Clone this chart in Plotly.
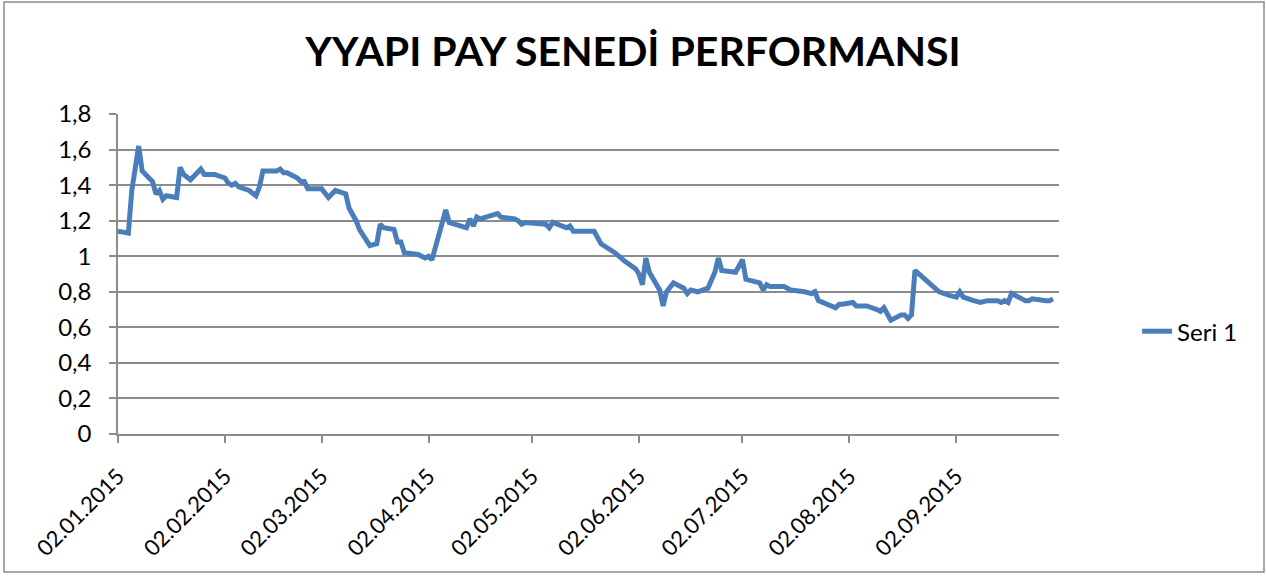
import plotly.graph_objects as go

dates = [
    "2015-01-02", "2015-01-05", "2015-01-06", "2015-01-08", "2015-01-09", "2015-01-12",
    "2015-01-13", "2015-01-14", "2015-01-15", "2015-01-16", "2015-01-19", "2015-01-20",
    "2015-01-21", "2015-01-23", "2015-01-26", "2015-01-27", "2015-01-30", "2015-02-02",
    "2015-02-03", "2015-02-04", "2015-02-05", "2015-02-06", "2015-02-09", "2015-02-11",
    "2015-02-12", "2015-02-13", "2015-02-17", "2015-02-18", "2015-02-19", "2015-02-20",
    "2015-02-23", "2015-02-24", "2015-02-25", "2015-02-26", "2015-03-02", "2015-03-03",
    "2015-03-04", "2015-03-06", "2015-03-09", "2015-03-10", "2015-03-11", "2015-03-12",
    "2015-03-13", "2015-03-16", "2015-03-18", "2015-03-19", "2015-03-20", "2015-03-23",
    "2015-03-24", "2015-03-25", "2015-03-26", "2015-03-30", "2015-04-01", "2015-04-02",
    "2015-04-03", "2015-04-07", "2015-04-08", "2015-04-10", "2015-04-13", "2015-04-14",
    "2015-04-15", "2015-04-16", "2015-04-17", "2015-04-22", "2015-04-23", "2015-04-27",
    "2015-04-28", "2015-04-29", "2015-04-30", "2015-05-06", "2015-05-07", "2015-05-08",
    "2015-05-11", "2015-05-12", "2015-05-13", "2015-05-14", "2015-05-20", "2015-05-21",
    "2015-05-22", "2015-05-26", "2015-05-29", "2015-06-01", "2015-06-02", "2015-06-03",
    "2015-06-04", "2015-06-05", "2015-06-08", "2015-06-09", "2015-06-10", "2015-06-12",
    "2015-06-15", "2015-06-16", "2015-06-17", "2015-06-19", "2015-06-22", "2015-06-24",
    "2015-06-25", "2015-06-26", "2015-06-30", "2015-07-02", "2015-07-03", "2015-07-07",
    "2015-07-08", "2015-07-09", "2015-07-10", "2015-07-14", "2015-07-16", "2015-07-20",
    "2015-07-22", "2015-07-23", "2015-07-24", "2015-07-29", "2015-07-30", "2015-07-31",
    "2015-08-03", "2015-08-04", "2015-08-07", "2015-08-10", "2015-08-11", "2015-08-12",
    "2015-08-14", "2015-08-17", "2015-08-18", "2015-08-19", "2015-08-20", "2015-08-21",
    "2015-08-26", "2015-08-28", "2015-08-31", "2015-09-02", "2015-09-03", "2015-09-04",
    "2015-09-07", "2015-09-09", "2015-09-11", "2015-09-14", "2015-09-15", "2015-09-16",
    "2015-09-17", "2015-09-18", "2015-09-21", "2015-09-22", "2015-09-23", "2015-09-24",
    "2015-09-28", "2015-09-29", "2015-09-30",
]

values = [
    1.14, 1.13, 1.37, 1.62, 1.48, 1.42,
    1.35, 1.37, 1.32, 1.34, 1.33, 1.50,
    1.46, 1.43, 1.49, 1.46, 1.46, 1.44,
    1.41, 1.40, 1.41, 1.39, 1.37, 1.34,
    1.39, 1.48, 1.48, 1.49, 1.47, 1.47,
    1.44, 1.42, 1.42, 1.38, 1.38, 1.35,
    1.33, 1.37, 1.35, 1.27, 1.24, 1.20,
    1.15, 1.06, 1.07, 1.18, 1.16, 1.15,
    1.08, 1.08, 1.02, 1.01, 0.99, 1.00,
    0.98, 1.26, 1.19, 1.18, 1.16, 1.21,
    1.17, 1.22, 1.21, 1.24, 1.22, 1.21,
    1.20, 1.18, 1.19, 1.18, 1.16, 1.19,
    1.17, 1.16, 1.17, 1.14, 1.14, 1.10,
    1.07, 1.02, 0.97, 0.93, 0.90, 0.84,
    0.99, 0.91, 0.81, 0.72, 0.80, 0.85,
    0.82, 0.79, 0.81, 0.80, 0.82, 0.91,
    0.99, 0.92, 0.91, 0.98, 0.87, 0.85,
    0.81, 0.84, 0.83, 0.83, 0.81, 0.80,
    0.79, 0.80, 0.75, 0.71, 0.73, 0.73,
    0.74, 0.72, 0.72, 0.70, 0.69, 0.71,
    0.64, 0.67, 0.67, 0.65, 0.67, 0.92,
    0.84, 0.80, 0.78, 0.77, 0.80, 0.77,
    0.75, 0.74, 0.75, 0.75, 0.74, 0.75,
    0.74, 0.79, 0.76, 0.75, 0.75, 0.76,
    0.75, 0.75, 0.76,
]

x_tick_vals = ["2015-01-02", "2015-02-02", "2015-03-02", "2015-04-02", "2015-05-02",
               "2015-06-02", "2015-07-02", "2015-08-02", "2015-09-02"]
x_tick_text = ["02.01.2015", "02.02.2015", "02.03.2015", "02.04.2015", "02.05.2015",
               "02.06.2015", "02.07.2015", "02.08.2015", "02.09.2015"]
y_tick_vals = [0, 0.2, 0.4, 0.6, 0.8, 1.0, 1.2, 1.4, 1.6, 1.8]
y_tick_text = ["0", "0,2", "0,4", "0,6", "0,8", "1", "1,2", "1,4", "1,6", "1,8"]

title_text = "YYAPI PAY SENEDİ PERFORMANSI"
series_name = "Seri 1"

FONT = "Lato, 'Open Sans', sans-serif"
GRID = "#8c8c8c"

fig = go.Figure()
fig.add_trace(go.Scatter(
    x=dates, y=values, mode="lines", name=series_name,
    line=dict(color="#4a7ebb", width=5),
    showlegend=True,
))

fig.update_layout(
    width=1266, height=578,
    margin=dict(l=118, r=207, t=114, b=144),
    paper_bgcolor="white", plot_bgcolor="white",
    font=dict(family=FONT, color="black", size=22),
    title=dict(text="<b>" + title_text + "</b>", x=0.5, xanchor="center",
               y=1 - 52 / 578, yanchor="middle",
               font=dict(family=FONT, size=41, color="black")),
    legend=dict(x=1.083, y=0.32, xanchor="left", yanchor="middle",
                font=dict(family=FONT, size=24), bgcolor="rgba(0,0,0,0)"),
    xaxis=dict(
        type="date", range=["2015-01-02", "2015-10-01 18:00"],
        tickvals=x_tick_vals, ticktext=x_tick_text, tickangle=-45,
        showgrid=False, showline=True, linecolor=GRID, linewidth=1.5,
        ticks="outside", ticklen=7, tickcolor=GRID, tickwidth=1.5,
        ticklabelstandoff=12,
        tickfont=dict(family=FONT, size=22), zeroline=False,
    ),
    yaxis=dict(
        range=[0, 1.8], tickvals=y_tick_vals, ticktext=y_tick_text,
        showgrid=True, gridcolor=GRID, gridwidth=1.5,
        showline=True, linecolor=GRID, linewidth=1.5,
        ticks="outside", ticklen=7, tickcolor=GRID, tickwidth=1.5,
        ticklabelstandoff=13,
        tickfont=dict(family=FONT, size=24), zeroline=False,
    ),
    shapes=[dict(type="rect", xref="paper", yref="paper",
                 x0=(4 - 118) / 941, x1=(1264 - 118) / 941,
                 y0=(434 - 572) / 320, y1=(434 - 2) / 320,
                 line=dict(color="#8c8c8c", width=1.5), layer="below")],
)

fig.write_html(
    "out.html",
    config={"displayModeBar": False},
    post_script="document.body.style.margin='0';document.documentElement.style.margin='0';",
)
